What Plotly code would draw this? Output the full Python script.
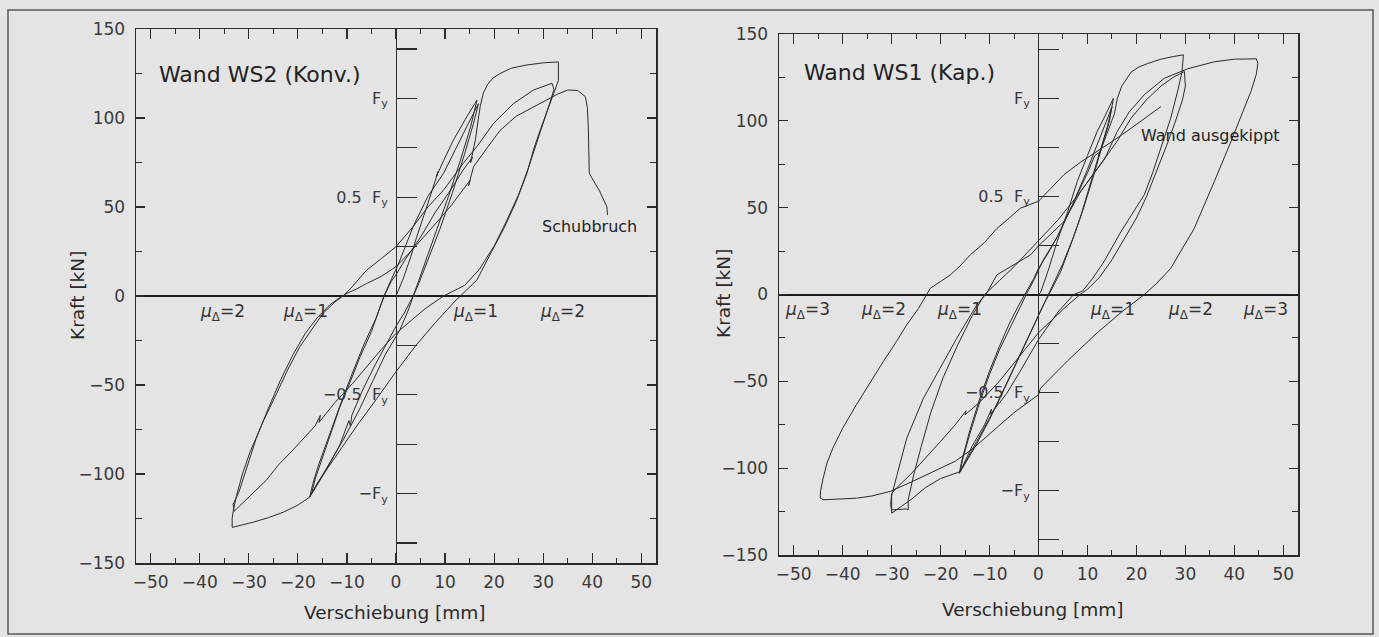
import plotly.graph_objects as go

# ---------------- data (displacement mm, force kN) ----------------
# Wand WS2 (Konv.) - loading history split in branches
ws2_initial = [(0, 0), (1.5, 10), (3, 22), (4.2, 33), (6.5, 52), (8.6, 70), (8.2, 67), (9.7, 76),
               (11.7, 87.6), (14.5, 101), (16.5, 110)]
ws2_mu1_neg1 = [(15.2, 95), (13.1, 76), (10.7, 56), (7.6, 31.5), (5.5, 15), (3.9, 2), (2.5, -8),
                (0.8, -19), (-2.2, -33), (-4.6, -47), (-7.5, -64), (-10.8, -81), (-14.5, -98), (-17.2, -111)]
ws2_mu1_pos2 = [(-16.5, -103), (-15.5, -95), (-13.5, -78), (-11.4, -62), (-9.3, -48), (-7.3, -34),
                (-5, -20), (-2.6, -1), (-1.5, 6), (0.5, 18), (3.5, 39), (6.5, 56), (9.7, 69), (12, 82),
                (14.4, 95), (16.8, 108)]
ws2_mu1_neg2 = [(15.8, 97), (14, 80), (11.5, 58), (9, 38), (6.5, 20), (4.5, 6), (3.5, 0), (1.8, -9),
                (0, -17), (-2.2, -28), (-4.5, -40), (-7, -54), (-9, -67), (-9.3, -73), (-9.6, -70),
                (-11.5, -84), (-14.5, -99), (-17.6, -113)]
ws2_mu2_pos1 = [(-17, -106), (-15.8, -95), (-13.5, -77), (-11.2, -60), (-9, -44), (-6.5, -27), (-4, -12),
                (-2.4, 0), (-1, 8), (0, 12), (2, 21), (5, 33), (8, 47), (11, 59), (13.5, 70), (15.6, 78),
                (15.2, 75), (16.2, 88), (16.8, 100), (17.2, 107), (17.8, 114), (18.7, 119), (19.8, 122.5),
                (21.2, 125), (23.5, 128), (26.7, 129.8), (30, 131), (33.1, 131.5)]
ws2_mu2_neg1 = [(33.1, 121), (32.3, 115), (31, 106), (29.5, 94), (28, 82), (26.7, 69), (24.5, 53), (22, 38),
                (19.5, 25), (17.5, 14), (16.5, 9), (12, -3), (8, -15), (4, -28), (0, -42.5), (-4, -58),
                (-8, -73), (-11, -85), (-14, -97), (-16, -105), (-17.6, -113), (-20, -117.5), (-23, -121.5),
                (-26, -124.5), (-29, -127), (-31.5, -128.8), (-33.4, -130), (-33.4, -125), (-33.2, -121)]
ws2_mu2_pos2 = [(-32.5, -112), (-31.3, -100), (-29.8, -88), (-27, -70), (-24.3, -54.6), (-22, -41),
                (-19.6, -28.5), (-17, -18), (-14.9, -9.8), (-12.5, -3.5), (-10.8, 0), (-9, 5), (-6, 14.5),
                (-3, 21), (0, 27.7), (3.5, 39), (6.5, 50), (9.7, 59.5), (13.7, 74.5), (16.5, 84),
                (19.9, 97), (23.9, 108), (28, 115.7), (31.8, 119.5)]
ws2_mu2_neg2 = [(32.2, 116), (31.3, 108), (30, 97), (28.5, 84), (27, 72), (25, 57), (22.5, 42), (20, 28),
                (17, 15), (14, 6), (11, 1.5), (9.7, 0), (6, -7), (3, -14), (0, -21), (-3, -30), (-6, -40),
                (-8.8, -49), (-12.5, -60), (-15.7, -71), (-15.4, -67), (-16.5, -73), (-21, -86.5),
                (-24, -95), (-26.4, -103.4), (-29, -110), (-31, -115.6), (-33, -121), (-33.2, -117)]
ws2_final = [(-32, -110), (-30.5, -97), (-28.5, -80), (-26, -63), (-23.5, -47), (-21, -33), (-18.5, -21),
             (-16, -12), (-13.5, -5), (-11.5, -1), (-10, 1.5), (-8, 4), (-6, 7), (-3, 11), (0, 16.5),
             (3, 25), (6.3, 35), (8.5, 42), (11, 50), (13, 57), (15.1, 65), (14.8, 62), (15.8, 72.6),
             (18, 81), (21.2, 93), (24.5, 101), (28, 106), (31, 110.5), (33, 113.5), (35, 115.7),
             (37, 115.5), (38.6, 112), (39, 106), (39.2, 95), (39.3, 80), (39.4, 69), (40.2, 65),
             (41.5, 59), (43, 50), (43.1, 45.5)]

# Wand WS1 (Kap.)
ws1_initial = [(0, 0), (0.4, 1), (2, 14), (3.8, 30.5), (6, 48), (7.9, 65), (10, 80), (12, 94),
               (13.8, 104), (15.3, 113)]
ws1_mu1_neg1 = [(14.5, 100), (13, 85), (11, 66), (9, 48), (7, 32), (5, 18), (3, 6), (2, 0), (0, -12),
                (-3.7, -35), (-8.5, -63.5), (-12.6, -84.6), (-14.5, -94), (-16, -102)]
ws1_mu1_pos2 = [(-15.5, -95), (-14, -80), (-12, -62), (-10, -46), (-8, -32), (-6, -20), (-4, -9),
                (-2.5, 0), (-1, 8), (1, 20), (3.8, 33), (7, 52), (10, 72), (12.5, 90), (15, 108)]
ws1_mu1_neg2 = [(14, 96), (12.5, 82), (10.5, 62), (8.5, 44), (6.5, 28), (4.5, 13), (2.5, 2), (1, -6),
                (-1, -18), (-4, -36), (-7, -55), (-10, -72), (-13, -88), (-15.5, -100), (-16.2, -103)]
ws1_mu2_pos1 = [(-15.6, -95), (-14, -78), (-12, -60), (-10, -44), (-8, -30), (-6, -17), (-4, -6),
                (-2.8, 0), (-1, 9), (0, 15), (2, 24), (4, 34), (6, 46), (8, 58), (10, 70), (11.5, 80),
                (12.5, 82), (12.3, 80), (14, 93), (15.5, 104), (16.1, 113), (17, 120), (18.9, 128),
                (20.5, 131), (22.3, 133), (25, 135.5), (27.5, 137), (29.6, 138)]
ws1_mu2_neg1 = [(29.3, 128), (28.5, 118), (27, 101.5), (25, 84), (23.3, 70), (21.6, 57.4), (19, 46),
                (16.8, 36), (15, 27), (13.4, 19), (11, 9), (9, 2), (7.2, 0), (4, -10), (1.5, -20),
                (0, -26), (-3.7, -44), (-6.5, -57), (-9.8, -69), (-9.6, -66), (-11, -75), (-13.5, -87),
                (-16, -102), (-18, -104), (-20, -106), (-23, -111), (-26, -118), (-28, -122), (-30, -125.9),
                (-30, -119), (-30, -116)]
ws1_mu2_pos2 = [(-29, -105), (-28, -95), (-26.9, -82.7), (-23.5, -59.7), (-20.1, -42.4), (-16.7, -25.2),
                (-12.6, -6), (-10.5, 1.2), (-8.5, 11.3), (-5, 17), (-1.6, 22.9), (0, 28), (5.2, 42),
                (8.6, 59.3), (12, 72.7), (14, 80), (16, 88), (18.9, 101.5), (22, 112), (25, 120),
                (27.5, 125), (29.8, 128.4)]
ws1_mu2_neg2 = [(30, 120), (29.4, 112), (28, 100), (26.2, 86), (24, 70), (22, 56), (20, 44), (17.5, 32),
                (15, 20), (12.5, 10), (10, 3), (8.5, 0), (6, -6), (3, -14), (0, -22), (-4, -36), (-8, -50),
                (-12, -62), (-15, -69.3), (-14.8, -67), (-17, -75), (-20, -84.6), (-23, -94),
                (-26.2, -103.8), (-28.5, -110), (-30, -114.5), (-30.2, -121), (-30, -124), (-27, -123.5),
                (-26.6, -124), (-26.6, -118)]
ws1_mu3_pos = [(-25.5, -104), (-24, -88), (-22, -68), (-19.5, -48), (-16.5, -29), (-13.5, -12), (-11, 0),
               (-8, 8), (-5, 16), (-2, 25), (0, 31), (4, 43), (8, 57), (11.5, 70), (13.5, 78), (16.1, 94),
               (18.5, 105), (21.6, 115), (25.7, 124.5), (30.5, 130), (35.9, 134), (40, 135.5), (44.5, 135.7)]
ws1_mu3_neg = [(44.8, 133), (44.5, 127), (43.4, 117), (41.5, 103), (39.3, 88), (35.9, 65), (31.8, 38),
               (27, 15), (24, 6), (21.6, 0), (17, -10), (12, -22), (6, -38), (0.4, -54), (0, -57.7),
               (-5, -68), (-9, -78), (-13.3, -88.5), (-17, -96), (-21.4, -102), (-26, -108), (-30.3, -113.4),
               (-34, -116), (-37.2, -117.3), (-40, -117.5), (-42, -118), (-44, -118.2), (-44.6, -117),
               (-44.5, -113)]
ws1_final = [(-44, -106), (-43.2, -97), (-42, -88.5), (-40, -77), (-37.2, -63.5), (-34.5, -51), (-31.7, -38.6),
             (-29, -27), (-26.9, -17.4), (-24.5, -8), (-22.8, 0), (-22.1, 3.6), (-20, 7.5), (-18, 11.3),
             (-16, 16.5), (-13.9, 22.9), (-11, 30), (-8.5, 38), (-6, 44), (-3.7, 49.7), (0, 53.7),
             (2.5, 61), (5.2, 69), (8.5, 76), (12, 82.3), (15.5, 89), (18.9, 95.7), (22, 102), (25, 108.2)]

ws2_branches = [ws2_initial, ws2_mu1_neg1, ws2_mu1_pos2, ws2_mu1_neg2, ws2_mu2_pos1,
                ws2_mu2_neg1, ws2_mu2_pos2, ws2_mu2_neg2, ws2_final]
ws1_branches = [ws1_initial, ws1_mu1_neg1, ws1_mu1_pos2, ws1_mu1_neg2, ws1_mu2_pos1,
                ws1_mu2_neg1, ws1_mu2_pos2, ws1_mu2_neg2, ws1_mu3_pos, ws1_mu3_neg, ws1_final]

fy_ws2 = 111
fy_ws1 = 113
x_ticks = [-50, -40, -30, -20, -10, 0, 10, 20, 30, 40, 50]
y_ticks = [-150, -100, -50, 0, 50, 100, 150]
ws2_mu_pos = [-35.3, -18.4, 16.3, 33.9]
ws2_mu_txt = ["2", "1", "1", "2"]
ws1_mu_pos = [-47.1, -31.6, -16.2, 15.2, 31.0, 46.3]
ws1_mu_txt = ["3", "2", "1", "1", "2", "3"]

# ---------------- figure ----------------
W, H = 1379, 637
BG = "#e4e4e4"
INK = "#2b2b2b"
TXT = "#3a3a3a"
FONT = "DejaVu Sans, Liberation Sans, sans-serif"

def path(branches):
    xs, ys = [], []
    for b in branches:
        for px, py in b:
            xs.append(px)
            ys.append(py)
    return xs, ys

fig = go.Figure()
for branches, xa, ya in [(ws2_branches, "x", "y"), (ws1_branches, "x2", "y2")]:
    xs, ys = path(branches)
    fig.add_trace(go.Scatter(x=xs, y=ys, mode="lines", xaxis=xa, yaxis=ya,
                             line=dict(color=INK, width=1), hoverinfo="skip", showlegend=False))

def fx(p):
    return p / W

def fy(p):
    return 1 - p / H

dom = {
    "L": dict(x=[fx(136), fx(656)], y=[fy(563), fy(29)]),
    "R": dict(x=[fx(779), fx(1298)], y=[fy(555), fy(34)]),
}

tickfont = dict(family=FONT, size=17, color=TXT)

def xaxis(d, anchor):
    return dict(domain=d, anchor=anchor, range=[-53, 53], tickvals=x_ticks,
                ticktext=[("\u2212" + str(-v)) if v < 0 else str(v) for v in x_ticks],
                ticks="inside", ticklen=10, tickwidth=1.2, tickcolor=INK,
                minor=dict(dtick=5, tick0=0, ticks="inside", ticklen=5, tickwidth=1, tickcolor=INK),
                showline=True, linecolor=INK, linewidth=1.5, mirror="ticks",
                showgrid=False, zeroline=False, tickfont=tickfont, automargin=False,
                ticklabelstandoff=3, fixedrange=True)

def yaxis(d, anchor):
    return dict(domain=d, anchor=anchor, range=[-150, 150], tickvals=y_ticks,
                ticktext=[("\u2212" + str(-v)) if v < 0 else str(v) for v in y_ticks],
                ticks="inside", ticklen=9, tickwidth=1.2, tickcolor=INK,
                minor=dict(dtick=25, tick0=0, ticks="inside", ticklen=6, tickwidth=1, tickcolor=INK),
                showline=True, linecolor=INK, linewidth=1.5, mirror="ticks",
                showgrid=False, zeroline=True, zerolinecolor="#1a1a1a", zerolinewidth=2,
                tickfont=tickfont, automargin=False, ticklabelstandoff=6, fixedrange=True)

def fy_axis(overlay, pos, fyv):
    vals = [-fyv, -fyv / 2, fyv / 2, fyv]
    txt = ["\u2212F<sub>y</sub>", "\u22120.5  F<sub>y</sub>", "0.5  F<sub>y</sub>", "F<sub>y</sub>"]
    return dict(overlaying=overlay, anchor="free", position=pos, side="left", range=[-150, 150],
                tickvals=vals, ticktext=txt, ticks="inside", ticklen=20, tickwidth=1.2, tickcolor=INK,
                minor=dict(dtick=fyv / 4, tick0=0, ticks="inside", ticklen=20, tickwidth=1.2,
                           tickcolor=INK, showgrid=False),
                showline=True, linecolor=INK, linewidth=1, showgrid=False, zeroline=False,
                tickfont=dict(family=FONT, size=16, color=TXT), automargin=False,
                ticklabelstandoff=5, fixedrange=True)

fig.update_layout(
    width=W, height=H, margin=dict(l=0, r=0, t=0, b=0),
    paper_bgcolor=BG, plot_bgcolor=BG, showlegend=False,
    xaxis=xaxis(dom["L"]["x"], "y"), yaxis=yaxis(dom["L"]["y"], "x"),
    xaxis2=xaxis(dom["R"]["x"], "y2"), yaxis2=yaxis(dom["R"]["y"], "x2"),
    yaxis3=fy_axis("y", fx(396), fy_ws2),
    yaxis4=fy_axis("y2", fx(1038), fy_ws1),
)

# invisible traces so the overlay axes are drawn
fig.add_trace(go.Scatter(x=[0], y=[0], xaxis="x", yaxis="y3", mode="markers",
                         marker=dict(opacity=0), hoverinfo="skip", showlegend=False))
fig.add_trace(go.Scatter(x=[0], y=[0], xaxis="x2", yaxis="y4", mode="markers",
                         marker=dict(opacity=0), hoverinfo="skip", showlegend=False))

ann = []
ann.append(dict(x=-48.8, y=124.7, xref="x", yref="y", text="Wand WS2 (Konv.)", showarrow=False,
                xanchor="left", yanchor="middle", font=dict(family=FONT, size=22, color="#222")))
ann.append(dict(x=-48.4, y=128, xref="x2", yref="y2", text="Wand WS1 (Kap.)", showarrow=False,
                xanchor="left", yanchor="middle", font=dict(family=FONT, size=22, color="#222")))
ann.append(dict(x=39.4, y=39.3, xref="x", yref="y", text="Schubbruch", showarrow=False,
                xanchor="center", yanchor="middle", font=dict(family=FONT, size=16, color="#222")))
ann.append(dict(x=35.2, y=91.8, xref="x2", yref="y2", text="Wand ausgekippt", showarrow=False,
                xanchor="center", yanchor="middle", font=dict(family=FONT, size=16, color="#222")))
for xv, t in zip(ws2_mu_pos, ws2_mu_txt):
    ann.append(dict(x=xv, y=-9.5, xref="x", yref="y", text="<i>\u03bc</i><sub>\u0394</sub>=" + t,
                    showarrow=False, xanchor="center", yanchor="middle",
                    font=dict(family=FONT, size=17, color="#333")))
for xv, t in zip(ws1_mu_pos, ws1_mu_txt):
    ann.append(dict(x=xv, y=-9.0, xref="x2", yref="y2", text="<i>\u03bc</i><sub>\u0394</sub>=" + t,
                    showarrow=False, xanchor="center", yanchor="middle",
                    font=dict(family=FONT, size=17, color="#333")))
# axis titles
for xp, yp in [(78, 296), (723, 294)]:
    ann.append(dict(x=fx(xp), y=fy(yp), xref="paper", yref="paper", text="Kraft [kN]", textangle=-90,
                    showarrow=False, xanchor="center", yanchor="middle",
                    font=dict(family=FONT, size=18.5, color="#2a2a2a")))
for xp, yp in [(395, 612), (1033, 609)]:
    ann.append(dict(x=fx(xp), y=fy(yp), xref="paper", yref="paper", text="Verschiebung [mm]",
                    showarrow=False, xanchor="center", yanchor="middle",
                    font=dict(family=FONT, size=18.5, color="#2a2a2a")))
fig.update_layout(annotations=ann)

# outer frame of the figure
fig.add_shape(type="rect", xref="paper", yref="paper", x0=fx(8), x1=fx(1373), y0=fy(634), y1=fy(10),
              line=dict(color="#555", width=1.5), fillcolor="rgba(0,0,0,0)", layer="below")

fig.write_html("out.html", config={"displayModeBar": False, "staticPlot": True},
               post_script="document.body.style.margin='0px';document.body.style.overflow='hidden';")
